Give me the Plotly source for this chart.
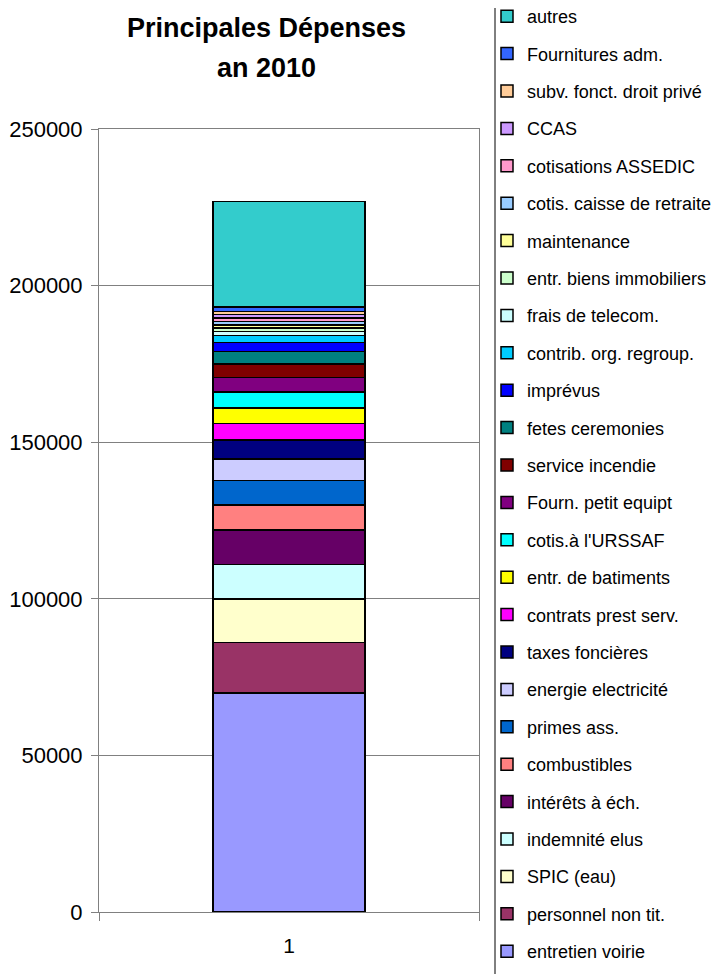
import plotly.graph_objects as go

# postes de dépense, du bas de la pile vers le haut
postes = [
    "entretien voirie", "personnel non tit.", "SPIC (eau)", "indemnité elus",
    "intérêts à éch.", "combustibles", "primes ass.", "energie electricité",
    "taxes foncières", "contrats prest serv.", "entr. de batiments",
    "cotis.à l'URSSAF", "Fourn. petit equipt", "service incendie",
    "fetes ceremonies", "imprévus", "contrib. org. regroup.", "frais de telecom.",
    "entr. biens immobiliers", "maintenance", "cotis. caisse de retraite",
    "cotisations ASSEDIC", "CCAS", "subv. fonct. droit privé", "Fournitures adm.",
    "autres",
]
montants = [
    70000, 16000, 14000, 11000,
    11000, 8000, 7700, 7000,
    6000, 5300, 5000,
    5100, 4600, 4300,
    3900, 2900, 2200, 1300,
    1200, 1000, 1100,
    1000, 1100, 1000, 1400,
    33700,
]
couleurs = [
    "#9999FF", "#993366", "#FFFFCC", "#CCFFFF",
    "#660066", "#FF8080", "#0066CC", "#CCCCFF",
    "#000080", "#FF00FF", "#FFFF00",
    "#00FFFF", "#800080", "#800000",
    "#008080", "#0000FF", "#00CCFF", "#CCFFFF",
    "#CCFFCC", "#FFFF99", "#99CCFF",
    "#FF99CC", "#CC99FF", "#FFCC99", "#3366FF",
    "#33CCCC",
]
annee = ["1"]

fig = go.Figure()
for i, (nom, val, coul) in enumerate(zip(postes, montants, couleurs)):
    fig.add_trace(go.Bar(
        name=nom, x=annee, y=[val], legendgroup=nom,
        legendrank=len(postes) - i,
        marker=dict(color=coul, line=dict(color="black", width=1.5)),
        width=0.4,
    ))

# titre sur deux lignes, placé à la main (coordonnées relatives à la zone de tracé)
fig.add_annotation(text="<b>Principales Dépenses</b>", xref="paper", yref="paper",
                   x=(266 - 99) / 380, y=(912 - 28) / 783, showarrow=False,
                   xanchor="center", yanchor="middle", font=dict(size=27))
fig.add_annotation(text="<b>an 2010</b>", xref="paper", yref="paper",
                   x=(266 - 99) / 380, y=(912 - 68) / 783, showarrow=False,
                   xanchor="center", yanchor="middle", font=dict(size=27))

# bord gauche du cadre de la légende
fig.add_shape(type="line", xref="paper", yref="paper",
              x0=(495 - 99) / 380, x1=(495 - 99) / 380, y0=-0.2, y1=1.3,
              line=dict(color="black", width=1))

fig.update_layout(
    barmode="stack",
    width=725, height=974,
    # la page html décale la figure de 8 px (marge du body)
    margin=dict(l=91, r=254, t=121, b=70, autoexpand=False),
    paper_bgcolor="white", plot_bgcolor="white",
    font=dict(family="Liberation Sans, Arial, sans-serif", color="black"),
    legend=dict(
        traceorder="grouped", tracegroupgap=11,
        font=dict(size=18), maxheight=1200,
        x=(487 - 99) / 380, xanchor="left", y=(912 + 2) / 783, yanchor="top",
        borderwidth=0, bgcolor="rgba(0,0,0,0)",
    ),
    showlegend=True,
)
fig.update_yaxes(
    range=[0, 250000], dtick=50000, tickformat="d",
    showgrid=True, gridcolor="#808080", gridwidth=1,
    showline=True, linecolor="#808080", mirror=True,
    ticks="outside", ticklen=7, tickcolor="#808080",
    ticklabelstandoff=4,
    tickfont=dict(size=22), zeroline=False,
)
fig.update_xaxes(
    showline=True, linecolor="#808080", mirror=True,
    ticks="outside", tickson="boundaries", ticklen=8, tickcolor="#808080",
    ticklabelstandoff=15,
    tickfont=dict(size=21),
)

fig.write_html("out.html")
